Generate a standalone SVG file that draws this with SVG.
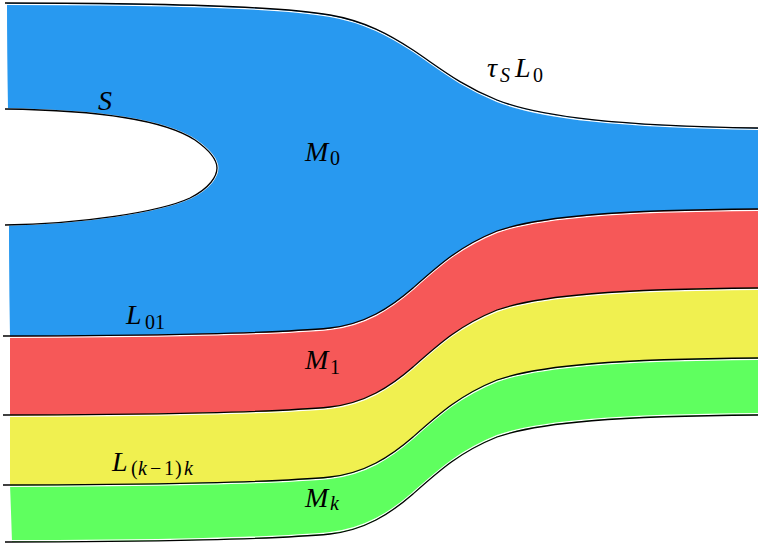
<svg xmlns="http://www.w3.org/2000/svg" width="758" height="546" viewBox="0 0 758 546">
<style>
.lbl{font-family:"Liberation Serif","Times New Roman",serif;font-size:28px;font-style:italic;fill:#000}
.sub{font-size:20px}
.up{font-style:normal}
.bl{fill:none;stroke:#000;stroke-width:1.3}
.wh{fill:none;stroke:#fff;stroke-width:1.3}
</style>
<defs>
<path id="cTop" d="M5,3 C150,3 280,6 330,15 C365,21 390,35 413,50 C440,68 460,85 497,100 C540,117 620,126 758,128"/>
<path id="cS" d="M5,109 C80,110 160,117 195,140 C212,152 217,162 217,168 C217,176 210,188 190,198 C160,212 80,224 5,225"/>
<path id="c01" d="M3,336 C150,336 280,333 330,328 C365,324 390,308 413,288 C440,264 460,246 497,231 C540,216 620,210 758,209"/>
<path id="cRY" d="M3,415 C150,415 280,412 330,407 C365,403 390,387 413,367 C440,343 460,325 497,310 C540,295 620,289 758,288"/>
<path id="cYG" d="M3,485 C150,485 280,482 330,477 C365,473 390,457 413,437 C440,413 460,395 497,380 C540,365 620,359 758,358"/>
<path id="cBot" d="M5,542 C150,542 280,539 330,534 C365,530 390,514 413,494 C440,470 460,452 497,437 C540,422 620,416 758,415"/>
</defs>
<g id="M0">
<path fill="#2899f0" d="M7,3 C150,3 280,6 330,15 C365,21 390,35 413,50 C440,68 460,85 497,100 C540,117 620,126 758,128 L758,209 C620,210 540,216 497,231 C460,246 440,264 413,288 C390,308 365,324 330,328 C280,333 150,336 10,336 Q9,280 9,225 C80,224 160,212 190,198 C210,188 217,176 217,168 C217,162 212,152 195,140 C160,117 80,110 8,109 Q7,50 7,3 Z"/>
</g>
<g id="M1">
<path fill="#f65858" d="M10,336 C150,336 280,333 330,328 C365,324 390,308 413,288 C440,264 460,246 497,231 C540,216 620,210 758,209 L758,288 C620,289 540,295 497,310 C460,325 440,343 413,367 C390,387 365,403 330,407 C280,412 150,415 10,415 Z"/>
</g>
<g id="Mmid">
<path fill="#f0f050" d="M10,415 C150,415 280,412 330,407 C365,403 390,387 413,367 C440,343 460,325 497,310 C540,295 620,289 758,288 L758,358 C620,359 540,365 497,380 C460,395 440,413 413,437 C390,457 365,473 330,477 C280,482 150,485 10,485 Z"/>
</g>
<g id="Mk">
<path fill="#5fff5f" d="M10,485 C150,485 280,482 330,477 C365,473 390,457 413,437 C440,413 460,395 497,380 C540,365 620,359 758,358 L758,415 C620,416 540,422 497,437 C460,452 440,470 413,494 C390,514 365,530 330,534 C280,539 150,542 12,542 Q11,510 10,485 Z"/>
</g>
<g id="connectors">
<use href="#cTop" class="wh" transform="translate(0,1.3)"/>
<use href="#cS" class="wh" transform="translate(0.8,0)"/>
<use href="#c01" class="wh" transform="translate(0,1.3)"/>
<use href="#cRY" class="wh" transform="translate(0,1.3)"/>
<use href="#cYG" class="wh" transform="translate(0,1.3)"/>
<use href="#cBot" class="wh" transform="translate(0,-1.3)"/>
<use href="#cTop" class="bl"/>
<use href="#cS" class="bl"/>
<use href="#c01" class="bl"/>
<use href="#cRY" class="bl"/>
<use href="#cYG" class="bl"/>
<use href="#cBot" class="bl"/>
</g>
<g id="labels">
<text class="lbl" x="98" y="110">S</text>
<text class="lbl" x="305" y="161">M<tspan class="sub up" x="330" y="165">0</tspan></text>
<text class="lbl" x="305" y="369">M<tspan class="sub up" x="330" y="374">1</tspan></text>
<text class="lbl" x="305" y="507">M<tspan class="sub" x="330" y="510">k</tspan></text>
<text class="lbl" x="126" y="324">L<tspan class="sub up" x="145" y="329">01</tspan></text>
<text class="lbl" x="112" y="471">L<tspan class="sub up" x="131" y="475">(</tspan><tspan class="sub" x="138" y="475">k</tspan><tspan class="sub up" x="150" y="475">−</tspan><tspan class="sub up" x="164" y="475">1</tspan><tspan class="sub up" x="175" y="475">)</tspan><tspan class="sub" x="184" y="475">k</tspan></text>
<text class="lbl" x="487" y="77">τ<tspan class="sub" x="500" y="82">S</tspan><tspan x="515" y="77">L</tspan><tspan class="sub up" x="533" y="82">0</tspan></text>
</g>
</svg>
